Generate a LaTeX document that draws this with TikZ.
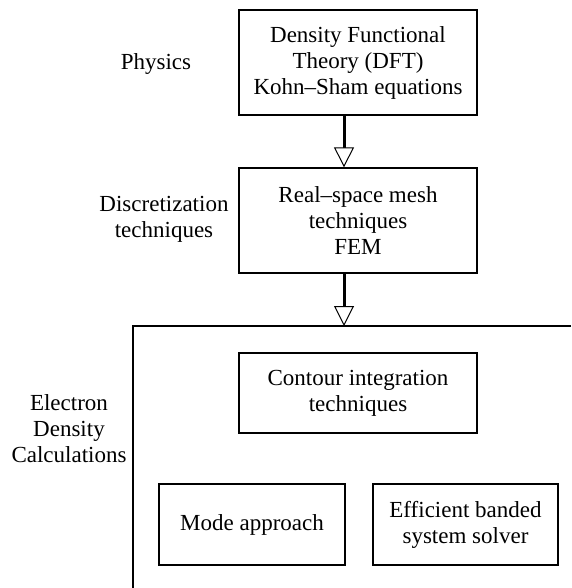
\documentclass[tikz,border=0pt]{standalone}
\usepackage{fontspec}
\setmainfont{Liberation Serif}
\usetikzlibrary{arrows.meta}
\begin{document}
\begin{tikzpicture}[x=1pt,y=-1pt,
  every node/.style={font=\fontsize{23}{26}\selectfont, inner sep=0pt, align=center},
  box/.style={draw, line width=1.3pt},
  conn/.style={line width=3pt, -{Triangle[open,length=20pt,width=20pt,line width=1pt,fill=white]}},
  frame/.style={line width=1.3pt}]
\useasboundingbox (0,0) rectangle (571,588);
% boxes
\node[box, minimum width=238pt, minimum height=105pt] (b1) at (358,62.5) {Density Functional\\Theory (DFT)\\Kohn--Sham equations};
\node[box, minimum width=238pt, minimum height=105pt] (b2) at (358,220.5) {Real--space mesh\\techniques\\FEM};
\node[box, minimum width=238pt, minimum height=80pt] (b3) at (358,393) {Contour integration\\techniques};
\node[box, minimum width=186pt, minimum height=81pt] (b4) at (252,524.5) {Mode approach};
\node[box, minimum width=185pt, minimum height=81pt] (b5) at (465.5,524.5) {Efficient banded\\system solver};
% labels
\node (l1) at (156,64) {Physics};
\node (l2) at (164,219) {Discretization\\techniques};
\node (l3) at (69,429) {Electron\\Density\\Calculations};
% frame
\coordinate (fr) at (571,326);
\coordinate (fc) at (133,326);
\coordinate (fb) at (133,588);
\coordinate (ft) at (344,326);
\draw[frame] (fr) -- (fc) -- (fb);
% connectors
\draw[conn] (b1.south -| ft) -- (b2.north -| ft);
\draw[conn] (b2.south -| ft) -- (ft);
\end{tikzpicture}
\end{document}
